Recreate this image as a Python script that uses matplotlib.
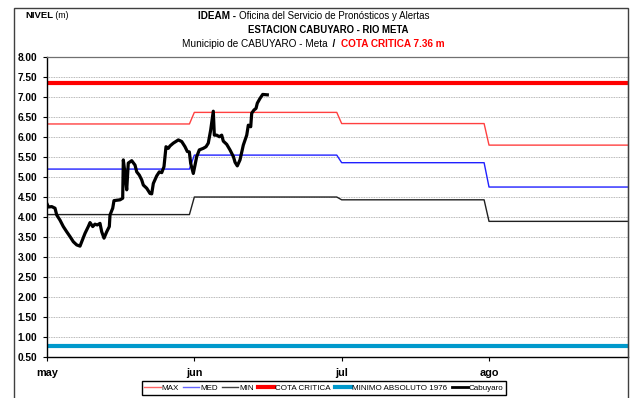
import numpy as np
import matplotlib.pyplot as plt
from matplotlib.patches import Rectangle
from matplotlib.lines import Line2D

plt.rcParams["font.family"] = ["Liberation Sans", "DejaVu Sans"]

# Monthly reference levels (may, jun, jul, ago), 30 days per month on the axis
month_labels = ["may", "jun", "jul", "ago"]
month_days = [30, 30, 30, 30]
nivel_max = [6.33, 6.62, 6.34, 5.80]
nivel_med = [5.20, 5.55, 5.36, 4.75]
nivel_min = [4.06, 4.50, 4.43, 3.89]
cota_critica = 7.36
minimo_absoluto = 0.77

# Observed stage at Cabuyaro (days since 1 May, metres)
cab_dia = [
    0.0, 0.3, 0.96, 1.63, 1.98, 2.65, 3.32, 4.01, 4.68, 5.36, 6.05, 6.72,
    7.07, 7.74, 8.41, 8.76, 9.31, 9.77, 10.24, 10.79, 11.14, 11.61, 12.16,
    12.69, 12.83, 13.38, 13.64, 14.87, 15.41, 15.54, 15.88, 16.23, 16.55,
    17.25, 17.92, 18.27, 18.79, 19.28, 19.61, 20.30, 20.97, 21.32, 21.65,
    22.34, 22.87, 23.36, 23.82, 24.23, 24.70, 25.05, 25.72, 26.74, 27.43,
    28.10, 28.57, 28.98, 29.26, 29.79, 30.14, 30.48, 31.01, 31.83, 32.38,
    32.84, 33.33, 33.86, 34.07, 34.56, 35.09, 35.57, 35.90, 36.59, 37.26,
    37.96, 38.29, 38.75, 39.30, 39.97, 40.67, 40.99, 41.48, 41.68, 42.15,
    42.56, 42.82, 43.37, 43.92, 44.86,
]
cab_nivel = [
    4.33, 4.25, 4.26, 4.22, 4.05, 3.92, 3.76, 3.63, 3.51, 3.38, 3.30, 3.27,
    3.38, 3.59, 3.76, 3.86, 3.76, 3.82, 3.80, 3.84, 3.63, 3.47, 3.63,
    3.76, 4.05, 4.22, 4.41, 4.43, 4.47, 5.43, 5.09, 4.68, 5.35,
    5.41, 5.30, 5.13, 5.05, 4.93, 4.80, 4.72, 4.59, 4.58, 4.84,
    5.03, 5.13, 5.11, 5.26, 5.76, 5.72, 5.78, 5.85, 5.93, 5.89,
    5.76, 5.64, 5.63, 5.34, 5.09, 5.30, 5.51, 5.68, 5.72, 5.76,
    5.85, 6.18, 6.65, 6.05, 6.05, 6.01, 6.05, 5.90, 5.82, 5.68,
    5.51, 5.37, 5.28, 5.43, 5.80, 6.05, 6.30, 6.26, 6.60, 6.68,
    6.72, 6.85, 6.97, 7.07, 7.06,
]

# Daily step series built from the monthly levels
dias = np.arange(sum(month_days))
serie_max = np.repeat(nivel_max, month_days)
serie_med = np.repeat(nivel_med, month_days)
serie_min = np.repeat(nivel_min, month_days)
month_ticks = np.concatenate([[0], np.cumsum(month_days)[:-1]])

fig = plt.figure(figsize=(6.39, 3.98), dpi=100)
ax = fig.add_axes([47 / 639, 1 - 356.7 / 398, 581 / 639, 299.4 / 398])

ax.plot(dias, serie_max, color="#FF4040", lw=1.0)
ax.plot(dias, serie_med, color="#2020FF", lw=1.0)
ax.plot(dias, serie_min, color="#202020", lw=1.0)
ax.axhline(cota_critica, color="#FF0000", lw=3.0)
ax.axhline(minimo_absoluto, color="#0099CC", lw=3.0)
ax.plot(cab_dia, cab_nivel, color="black", lw=2.3, solid_joinstyle="round")

ax.set_xlim(0, 118.3)
ax.set_ylim(0.5, 8.0)
ax.set_yticks(np.arange(0.5, 8.01, 0.5))
ax.set_yticklabels([f"{v:.2f}" for v in np.arange(0.5, 8.01, 0.5)],
                   fontsize=7.3, fontweight="bold")
ax.set_xticks(month_ticks)
ax.set_xticklabels(month_labels, fontsize=7.8, fontweight="bold")
ax.tick_params(axis="y", length=3, width=0.8, pad=4)
ax.tick_params(axis="x", length=3, width=0.8, pad=5)
ax.grid(axis="y", color="#A0A0A0", linestyle=(0, (1, 1)), lw=0.6)
ax.set_axisbelow(True)
for side in ["top", "right"]:
    ax.spines[side].set_color("#707070")
    ax.spines[side].set_linewidth(0.9)
for side in ["left", "bottom"]:
    ax.spines[side].set_color("black")
    ax.spines[side].set_linewidth(1.0)

# Outer frame
fig.patches.append(Rectangle((14 / 639, -0.05), 614 / 639, 1 - 8 / 398 + 0.05,
                             transform=fig.transFigure, fill=False,
                             edgecolor="#404040", lw=1.0))


def draw_segments(y, segs, x_center=None, x_left=None):
    # place text pieces with different styles next to each other
    renderer = fig.canvas.get_renderer()
    texts = [fig.text(0, y, s, va="center", **kw) for s, kw in segs]
    widths = [t.get_window_extent(renderer).width / fig.bbox.width for t in texts]
    x = x_left if x_left is not None else x_center - sum(widths) / 2
    for t, w in zip(texts, widths):
        t.set_x(x)
        x += w


draw_segments(1 - 16 / 398, [("NIVEL", dict(fontsize=6.8, fontweight="bold")),
                             (" (m)", dict(fontsize=6.3))], x_left=25 / 639)
draw_segments(1 - 16 / 398, [("IDEAM - ", dict(fontsize=7.2, fontweight="bold")),
                             ("Oficina del Servicio de Pronósticos y Alertas",
                              dict(fontsize=7.0))], x_center=314 / 639)
draw_segments(1 - 30 / 398, [("ESTACION CABUYARO - RIO META",
                              dict(fontsize=6.9, fontweight="bold"))],
              x_center=328 / 639)
draw_segments(1 - 44 / 398, [("Municipio de CABUYARO - Meta", dict(fontsize=7.2)),
                             ("  /  ", dict(fontsize=7.2, fontweight="bold")),
                             ("COTA CRITICA 7.36 m",
                              dict(fontsize=7.2, fontweight="bold", color="#FF0000"))],
              x_center=313 / 639)

handles = [
    Line2D([], [], color="#FF6666", lw=1.0),
    Line2D([], [], color="#6666FF", lw=1.0),
    Line2D([], [], color="#404040", lw=1.0),
    Line2D([], [], color="#FF0000", lw=3.0),
    Line2D([], [], color="#0099CC", lw=3.0),
    Line2D([], [], color="black", lw=2.0),
]
labels = ["MAX", "MED", "MIN", "COTA CRITICA", "MINIMO ABSOLUTO 1976", "Cabuyaro"]
fig.legend(handles, labels, loc="center", bbox_to_anchor=(324 / 639, 1 - 388 / 398),
           ncol=6, fontsize=5.8, frameon=True, fancybox=False, edgecolor="black",
           framealpha=1, handlelength=2.0, handletextpad=0.15, columnspacing=0.5,
           borderpad=0.35, borderaxespad=0)

fig.savefig("out.png", dpi=100)
